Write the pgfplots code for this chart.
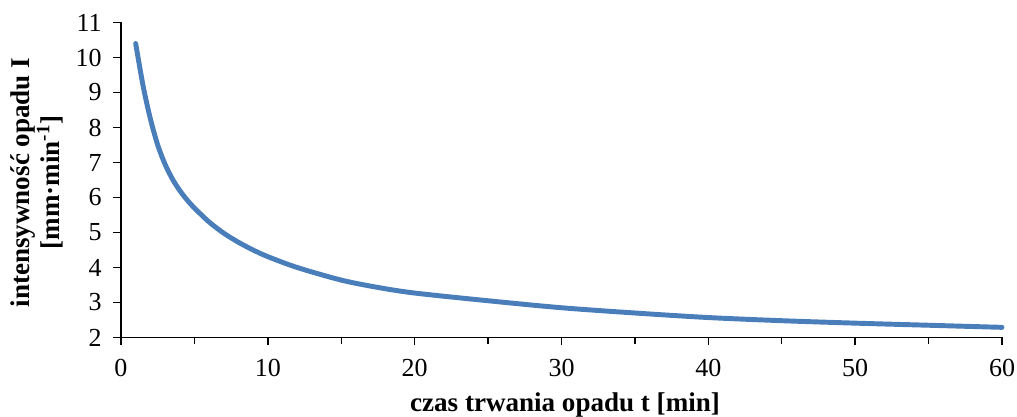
\documentclass[border=0pt]{standalone}
\usepackage{pgfplots}
\pgfplotsset{compat=1.18}
\usepackage{fontspec}
\setmainfont{Liberation Serif}
\definecolor{excelblue}{HTML}{4A7EBB}
\begin{document}
\begin{tikzpicture}
\path[use as bounding box] (-90.75pt,-59.625pt) rectangle (672pt,253.125pt);
\begin{axis}[
  at={(0,0)}, anchor=south west,
  scale only axis,
  width=660.75pt, height=236.25pt,
  xmin=0, xmax=60, ymin=2, ymax=11,
  axis x line=bottom, axis y line=left,
  axis line style={-, line width=1.1pt, black},
  xtick={0,10,...,60},
  minor xtick={5,15,...,55},
  ytick={2,3,...,11},
  tick align=outside,
  major tick length=6pt,
  minor tick length=4.6pt,
  every tick/.style={black, line width=1.1pt},
  /pgf/number format/assume math mode=true,
  tick label style={font=\fontsize{19.5}{20}\selectfont, inner sep=0pt},
  xticklabel style={anchor=base, yshift=-23.4pt},
  yticklabel style={anchor=east, xshift=-8.3pt},
  xlabel={\textbf{czas trwania opadu t [min]}},
  xlabel style={at={(axis description cs:0.504,-0.2356)}, anchor=base, inner sep=0pt,
    font=\fontsize{20.3}{20}\selectfont},
  ylabel={\textbf{intensywność opadu I}\\\textbf{[mm·min\textsuperscript{-1}]}},
  ylabel style={at={(axis description cs:-0.0655,0.492)}, anchor=south, rotate=0,
    inner sep=0pt, align=center, font=\fontsize{20.3}{16.3}\selectfont},
  clip=false,
]
\addplot[excelblue, line width=3.7pt, smooth, line cap=round] coordinates {
(1,10.40) (1.5,9.20) (2,8.25) (2.5,7.50) (3,6.95) (3.5,6.53) (4,6.20) (4.5,5.93)
(5,5.70) (6,5.30) (7,4.98) (8,4.72) (9,4.50) (10,4.31) (12,4.00) (15,3.64)
(17.5,3.43) (20,3.27) (25,3.05) (30,2.85) (35,2.70) (40,2.57) (45,2.48)
(50,2.41) (55,2.35) (60,2.29)
};
\end{axis}
\end{tikzpicture}
\end{document}
